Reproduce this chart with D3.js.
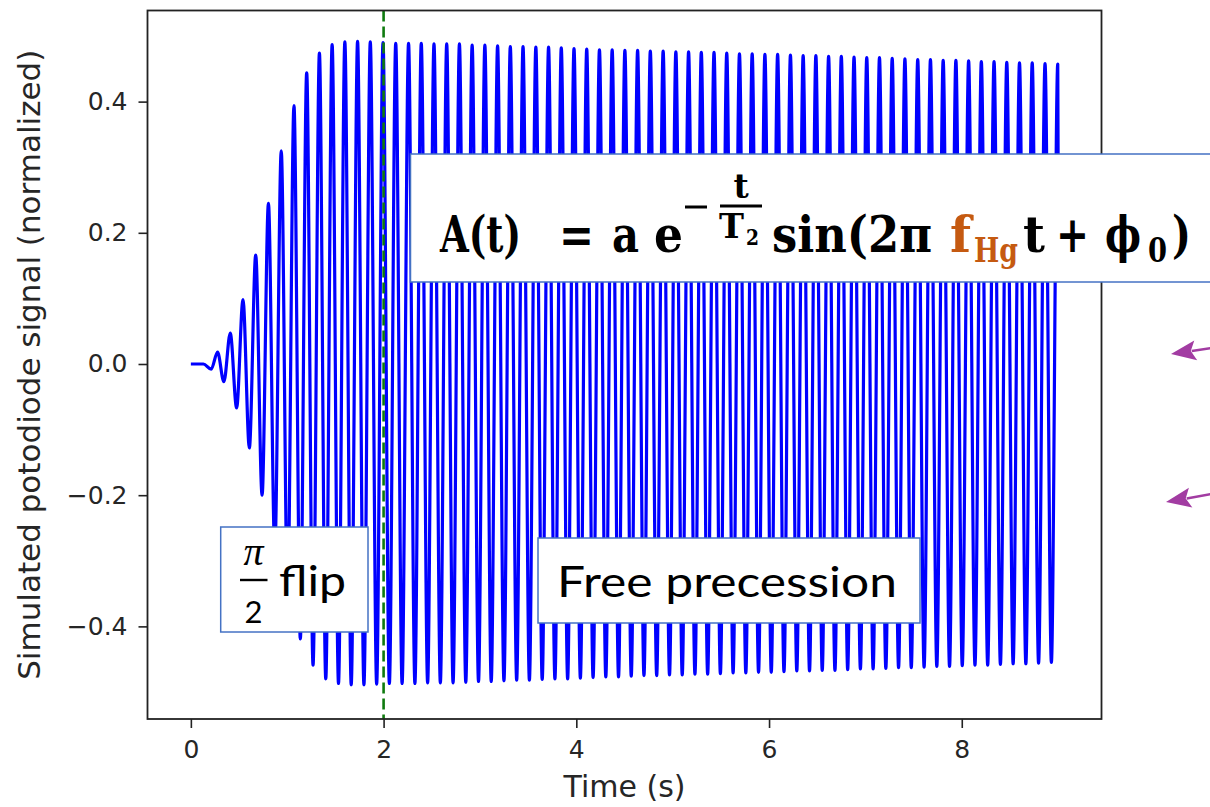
<!DOCTYPE html>
<html>
<head>
<meta charset="utf-8">
<script src="https://cdn.jsdelivr.net/npm/d3@7"></script>
<style>
  html, body { margin: 0; padding: 0; background: #fff; }
  svg { display: block; }
</style>
</head>
<body>
<div id="chart"></div>
<script>
'use strict';

// ---- data ----
var xTicks = [0, 2, 4, 6, 8];
var yTicks = [-0.4, -0.2, 0.0, 0.2, 0.4];
var flipTime = 2;

// flat start before the flip
var leadTimes = [0, 0.13];
var leadValues = [0, 0.0];

// positive extrema of the signal
var peakTimes = [0.277, 0.409, 0.541, 0.673, 0.805, 0.938, 1.070, 1.202, 1.334, 1.466,
  1.598, 1.730, 1.862, 1.994, 2.126, 2.259, 2.391, 2.523, 2.655, 2.787,
  2.919, 3.051, 3.183, 3.315, 3.447, 3.580, 3.712, 3.844, 3.976, 4.108,
  4.240, 4.372, 4.504, 4.636, 4.768, 4.901, 5.033, 5.165, 5.297, 5.429,
  5.561, 5.693, 5.825, 5.957, 6.089, 6.222, 6.354, 6.486, 6.618, 6.750,
  6.882, 7.014, 7.146, 7.278, 7.410, 7.543, 7.675, 7.807, 7.939, 8.071,
  8.203, 8.335, 8.467, 8.599, 8.731, 8.864, 8.996];
var peakValues = [0.018, 0.047, 0.098, 0.166, 0.245, 0.325, 0.394, 0.444, 0.474, 0.487,
  0.491, 0.492, 0.491, 0.490, 0.489, 0.489, 0.489, 0.488, 0.488, 0.488,
  0.486, 0.486, 0.485, 0.484, 0.484, 0.483, 0.483, 0.482, 0.481, 0.480,
  0.479, 0.479, 0.478, 0.478, 0.477, 0.477, 0.476, 0.476, 0.475, 0.475,
  0.474, 0.473, 0.473, 0.472, 0.472, 0.471, 0.470, 0.470, 0.469, 0.469,
  0.468, 0.467, 0.467, 0.466, 0.465, 0.464, 0.464, 0.463, 0.463, 0.462,
  0.461, 0.461, 0.460, 0.459, 0.459, 0.458, 0.457];

// negative extrema of the signal
var troughTimes = [0.211, 0.343, 0.475, 0.607, 0.739, 0.871, 1.004, 1.136, 1.268, 1.400,
  1.532, 1.664, 1.796, 1.928, 2.060, 2.192, 2.325, 2.457, 2.589, 2.721,
  2.853, 2.985, 3.117, 3.249, 3.381, 3.513, 3.646, 3.778, 3.910, 4.042,
  4.174, 4.306, 4.438, 4.570, 4.702, 4.834, 4.967, 5.099, 5.231, 5.363,
  5.495, 5.627, 5.759, 5.891, 6.023, 6.155, 6.288, 6.420, 6.552, 6.684,
  6.816, 6.948, 7.080, 7.212, 7.344, 7.476, 7.609, 7.741, 7.873, 8.005,
  8.137, 8.269, 8.401, 8.533, 8.665, 8.797, 8.930];
var troughValues = [-0.008, -0.027, -0.067, -0.128, -0.200, -0.285, -0.360, -0.419, -0.459, -0.480,
  -0.487, -0.489, -0.489, -0.488, -0.487, -0.487, -0.487, -0.486, -0.486, -0.486,
  -0.485, -0.484, -0.484, -0.483, -0.482, -0.482, -0.481, -0.480, -0.480, -0.479,
  -0.478, -0.477, -0.477, -0.476, -0.475, -0.475, -0.474, -0.474, -0.473, -0.473,
  -0.472, -0.471, -0.471, -0.470, -0.470, -0.469, -0.468, -0.468, -0.467, -0.467,
  -0.466, -0.465, -0.465, -0.464, -0.463, -0.463, -0.462, -0.461, -0.461, -0.460,
  -0.459, -0.459, -0.458, -0.457, -0.457, -0.456, -0.455];

// last sample after the final peak
var tailTimes = [9.0];
var tailValues = [0.30];

var xLabel = "Time (s)";
var yLabel = "Simulated potodiode signal (normalized)";
var flipText = "flip";
var freeText = "Free precession";

// ---- layout ----
var W = 1210, H = 807;
var plot = { left: 147.5, right: 1101.5, top: 10.5, bottom: 719 };

var svg = d3.select("#chart").append("svg")
  .attr("width", W)
  .attr("height", H);

var x = d3.scaleLinear().domain([-0.45, 9.45]).range([plot.left, plot.right]);
var y = d3.scaleLinear().domain([-0.5412, 0.5389]).range([plot.bottom, plot.top]);

// merge all samples into one sorted series
var series = [];
function addPoints(ts, vs) {
  ts.forEach(function(t, i) { series.push({ t: t, v: vs[i] }); });
}
addPoints(leadTimes, leadValues);
addPoints(peakTimes, peakValues);
addPoints(troughTimes, troughValues);
addPoints(tailTimes, tailValues);
series.sort(function(a, b) { return a.t - b.t; });

var line = d3.line()
  .x(function(d) { return x(d.t); })
  .y(function(d) { return y(d.v); })
  .curve(d3.curveMonotoneX);

svg.append("path")
  .datum(series)
  .attr("d", line)
  .attr("fill", "none")
  .attr("stroke", "#0000ff")
  .attr("stroke-width", 3.2)
  .attr("stroke-linejoin", "round");

// dashed marker at the end of the flip
svg.append("line")
  .attr("x1", x(flipTime)).attr("x2", x(flipTime))
  .attr("y1", plot.top).attr("y2", plot.bottom)
  .attr("stroke", "#0f7a0f")
  .attr("stroke-width", 2.6)
  .attr("stroke-dasharray", "11,5");

// axes
var tickFont = "'DejaVu Sans', sans-serif";

var gx = svg.append("g")
  .attr("transform", "translate(0," + plot.bottom + ")")
  .call(d3.axisBottom(x).tickValues(xTicks).tickFormat(d3.format("d")).tickSize(9).tickPadding(12));
var gy = svg.append("g")
  .attr("transform", "translate(" + plot.left + ",0)")
  .call(d3.axisLeft(y).tickValues(yTicks).tickFormat(d3.format(".1f")).tickSize(9).tickPadding(11));

[gx, gy].forEach(function(g) {
  g.select(".domain").remove();
  g.selectAll(".tick line").attr("stroke", "#222").attr("stroke-width", 1.6);
  g.selectAll(".tick text")
    .attr("fill", "#262626")
    .style("font-family", tickFont)
    .style("font-size", "25px");
});

svg.append("rect")
  .attr("x", plot.left).attr("y", plot.top)
  .attr("width", plot.right - plot.left)
  .attr("height", plot.bottom - plot.top)
  .attr("fill", "none")
  .attr("stroke", "#222")
  .attr("stroke-width", 1.8);

svg.append("text")
  .attr("x", (plot.left + plot.right) / 2)
  .attr("y", 797)
  .attr("text-anchor", "middle")
  .attr("fill", "#262626")
  .style("font-family", tickFont)
  .style("font-size", "30px")
  .text(xLabel);

svg.append("text")
  .attr("transform", "translate(39.5," + ((plot.top + plot.bottom) / 2) + ") rotate(-90)")
  .attr("text-anchor", "middle")
  .attr("fill", "#262626")
  .style("font-family", tickFont)
  .style("font-size", "31px")
  .text(yLabel);

// ---- annotation boxes ----
var boxBlue = "#4472C4";
var sans = "Lato, 'Open Sans', sans-serif";
var serif = "'DejaVu Serif', 'Liberation Serif', serif";

function box(x0, y0, w, h) {
  svg.append("rect")
    .attr("x", x0).attr("y", y0)
    .attr("width", w).attr("height", h)
    .attr("fill", "#fff")
    .attr("stroke", boxBlue)
    .attr("stroke-width", 1.5);
}

// pi/2 flip
box(220.7, 527, 147.3, 105);
svg.append("text")
  .attr("x", 253.5).attr("y", 565)
  .attr("text-anchor", "middle")
  .style("font-family", "'Liberation Serif', serif").style("font-style", "italic")
  .style("font-size", "40px")
  .text("π");
svg.append("line")
  .attr("x1", 240).attr("x2", 267.5)
  .attr("y1", 580).attr("y2", 580)
  .attr("stroke", "#000").attr("stroke-width", 2.4);
svg.append("text")
  .attr("x", 253.5).attr("y", 623)
  .attr("text-anchor", "middle")
  .style("font-family", sans)
  .style("font-size", "31px")
  .text("2");
svg.append("text")
  .attr("x", 279).attr("y", 596)
  .attr("textLength", 67).attr("lengthAdjust", "spacingAndGlyphs")
  .style("font-family", sans)
  .style("font-size", "43px")
  .text(flipText);

// Free precession
box(538, 538, 382, 85);
svg.append("text")
  .attr("x", 557).attr("y", 597)
  .attr("textLength", 340).attr("lengthAdjust", "spacingAndGlyphs")
  .style("font-family", sans)
  .style("font-size", "42px")
  .text(freeText);

// equation: each run is one <text> made of positioned tspans
box(410.5, 154, 820, 128);
var eq = svg.append("g")
  .style("font-family", serif)
  .style("font-weight", "bold")
  .attr("fill", "#000");

var orange = "#C55A11";
var BIG = 51, SUB = 33;

function eqRun(parts) {
  var t = eq.append("text");
  parts.forEach(function(p) {
    var s = t.append("tspan")
      .attr("x", p.x).attr("y", p.y || 252)
      .style("font-size", (p.size || BIG) + "px")
      .text(p.s);
    if (p.len) s.attr("textLength", p.len).attr("lengthAdjust", "spacingAndGlyphs");
    if (p.color) s.attr("fill", p.color);
    if (p.anchor) s.attr("text-anchor", p.anchor);
  });
  return t;
}

eqRun([
  { s: "A(t)", x: 440, len: 81 },
  { s: "=", x: 559, len: 35 },
  { s: "a", x: 612, len: 27 },
  { s: "e", x: 654, len: 29 }
]);

// exponent -t/T2
eq.append("line")
  .attr("x1", 685).attr("x2", 707)
  .attr("y1", 207).attr("y2", 207)
  .attr("stroke", "#000").attr("stroke-width", 3);
eqRun([{ s: "t", x: 741, y: 198, size: SUB, anchor: "middle" }]);
eq.append("line")
  .attr("x1", 720).attr("x2", 762)
  .attr("y1", 206).attr("y2", 206)
  .attr("stroke", "#000").attr("stroke-width", 3);
eqRun([
  { s: "T", x: 719, y: 238, size: SUB, len: 25 },
  { s: "2", x: 746, y: 245, size: 23, len: 13 }
]);

eqRun([
  { s: "sin(2π", x: 772, len: 160 },
  { s: "f", x: 950, len: 21, color: orange },
  { s: "Hg", x: 974, y: 262, size: SUB, len: 44, color: orange },
  { s: "t", x: 1023, len: 22 },
  { s: "+", x: 1056, len: 33 },
  { s: "ϕ", x: 1105, len: 36 },
  { s: "0", x: 1148, y: 262, size: SUB, len: 19 },
  { s: ")", x: 1172, len: 19 }
]);

// purple arrows on the right edge
var purple = "#A23CA2";
var arrows = [
  { tip: [1171, 354], tail: [1212, 348] },
  { tip: [1166, 502], tail: [1212, 494] }
];
arrows.forEach(function(a) {
  var dx = a.tail[0] - a.tip[0], dy = a.tail[1] - a.tip[1];
  var len = Math.sqrt(dx * dx + dy * dy);
  var ux = dx / len, uy = dy / len;
  var hl = 25, hw = 10;
  var bx = a.tip[0] + ux * hl, by = a.tip[1] + uy * hl;
  svg.append("line")
    .attr("x1", bx - ux * 4).attr("y1", by - uy * 4)
    .attr("x2", a.tail[0]).attr("y2", a.tail[1])
    .attr("stroke", purple).attr("stroke-width", 2.5);
  svg.append("path")
    .attr("d", "M" + a.tip[0] + "," + a.tip[1] +
      "L" + (bx - uy * hw) + "," + (by + ux * hw) +
      "L" + (bx - ux * 5) + "," + (by - uy * 5) +
      "L" + (bx + uy * hw) + "," + (by - ux * hw) + "Z")
    .attr("fill", purple);
});
</script>
</body>
</html>
